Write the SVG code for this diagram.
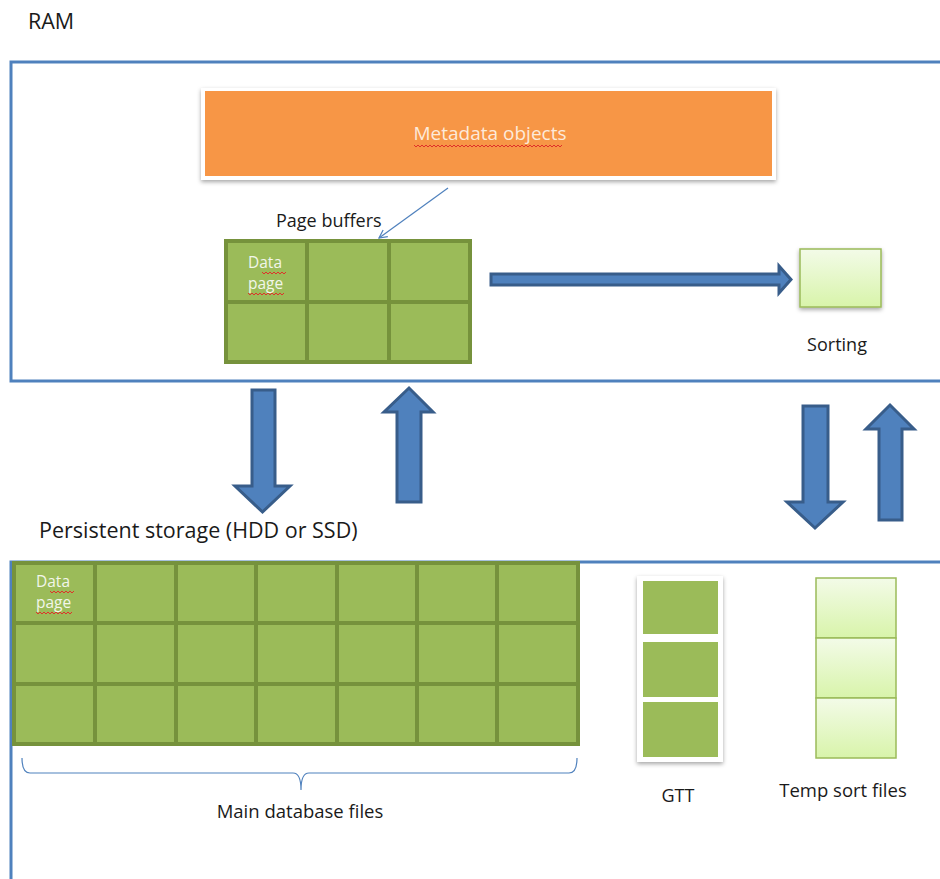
<svg xmlns="http://www.w3.org/2000/svg" width="940" height="879" viewBox="0 0 940 879">
<defs>
<style>
.t{font-family:"Open Sans","Liberation Sans",Arial,sans-serif;fill:#1a1a1a}
.frame{fill:none;stroke:#4F81BD;stroke-width:3}
.cell{fill:#9BBB59;stroke:#76923C;stroke-width:4}
.blk{fill:#4F81BD;stroke:#385D8A;stroke-width:3;stroke-linejoin:miter}
.lite{fill:url(#lg);stroke:#9BBB59;stroke-width:1.5}
.sq{fill:none;stroke:#E0302A;stroke-width:1}
.wt{font-family:"Open Sans","Liberation Sans",Arial,sans-serif;fill:#F2F6EA}
</style>
<linearGradient id="lg" x1="0" y1="0" x2="0" y2="1">
<stop offset="0" stop-color="#F3FBE8"/>
<stop offset="1" stop-color="#D8F4AA"/>
</linearGradient>
<filter id="sh" x="-10%" y="-10%" width="120%" height="130%">
<feDropShadow dx="0" dy="2" stdDeviation="2" flood-color="#000" flood-opacity="0.35"/>
</filter>
<marker id="ah" markerWidth="10" markerHeight="10" refX="9" refY="5" orient="auto" markerUnits="userSpaceOnUse">
<path d="M1,1 L9,5 L1,9" fill="none" stroke="#4F81BD" stroke-width="1.2"/>
</marker>
</defs>
<rect width="940" height="879" fill="#fff"/>

<g id="ram">
<text class="t" x="28" y="29" font-size="21.5">RAM</text>
<rect class="frame" x="11" y="62" width="940" height="319"/>
</g>

<g id="storage">
<text class="t" x="39" y="538" font-size="21.5">Persistent storage (HDD or SSD)</text>
<rect class="frame" x="11" y="562" width="940" height="330"/>
</g>

<g id="metadata">
<rect x="201" y="88" width="575" height="92" fill="#fff" filter="url(#sh)"/>
<rect x="205" y="91" width="567" height="85" fill="#F79646"/>
<text x="490" y="140" font-size="19" text-anchor="middle" font-family="Open Sans, Liberation Sans, Arial, sans-serif" fill="#FDEADA">Metadata objects</text>
<path class="sq" d="M414,145 l2,2 2,-2 2,2 2,-2 2,2 2,-2 2,2 2,-2 2,2 2,-2 2,2 2,-2 2,2 2,-2 2,2 2,-2 2,2 2,-2 2,2 2,-2 2,2 2,-2 2,2 2,-2 2,2 2,-2 2,2 2,-2 2,2 2,-2 2,2 2,-2 2,2 2,-2 2,2 2,-2 2,2 2,-2 M490,145 l2,2 2,-2 2,2 2,-2 2,2 2,-2 2,2 2,-2 2,2 2,-2 2,2 2,-2 2,2 2,-2 2,2 2,-2 2,2 2,-2 2,2 2,-2 2,2 2,-2 2,2 2,-2 2,2 2,-2 2,2 2,-2 2,2 2,-2 2,2 2,-2 2,2 2,-2 2,2 2,-2"/>
</g>

<g id="page-buffers">
<text class="t" x="276" y="227" font-size="18">Page buffers</text>
<rect class="cell" x="226" y="241" width="81" height="61"/>
<rect class="cell" x="307" y="241" width="82" height="61"/>
<rect class="cell" x="389" y="241" width="81" height="61"/>
<rect class="cell" x="226" y="302" width="81" height="60"/>
<rect class="cell" x="307" y="302" width="82" height="60"/>
<rect class="cell" x="389" y="302" width="81" height="60"/>
<text class="wt" x="248" y="268" font-size="15.5">Data</text>
<text class="wt" x="248" y="289" font-size="15.5">page</text>
<path class="sq" d="M262,272 l2,2 2,-2 2,2 2,-2 2,2 2,-2 2,2 2,-2 2,2 2,-2 2,2 2,-2 M248,293 l2,2 2,-2 2,2 2,-2 2,2 2,-2 2,2 2,-2 2,2 2,-2 2,2 2,-2 2,2 2,-2 2,2 2,-2 2,2 2,-2"/>
</g>

<g id="sorting">
<rect class="lite" x="800" y="249" width="81" height="58" filter="url(#sh)"/>
<text class="t" x="837" y="351" font-size="18" text-anchor="middle">Sorting</text>
</g>

<g id="main-db">
<rect class="cell" x="14" y="563" width="81" height="60"/>
<rect class="cell" x="95" y="563" width="81" height="60"/>
<rect class="cell" x="176" y="563" width="80" height="60"/>
<rect class="cell" x="256" y="563" width="81" height="60"/>
<rect class="cell" x="337" y="563" width="80" height="60"/>
<rect class="cell" x="417" y="563" width="80" height="60"/>
<rect class="cell" x="497" y="563" width="81" height="60"/>
<rect class="cell" x="14" y="623" width="81" height="61"/>
<rect class="cell" x="95" y="623" width="81" height="61"/>
<rect class="cell" x="176" y="623" width="80" height="61"/>
<rect class="cell" x="256" y="623" width="81" height="61"/>
<rect class="cell" x="337" y="623" width="80" height="61"/>
<rect class="cell" x="417" y="623" width="80" height="61"/>
<rect class="cell" x="497" y="623" width="81" height="61"/>
<rect class="cell" x="14" y="684" width="81" height="60"/>
<rect class="cell" x="95" y="684" width="81" height="60"/>
<rect class="cell" x="176" y="684" width="80" height="60"/>
<rect class="cell" x="256" y="684" width="81" height="60"/>
<rect class="cell" x="337" y="684" width="80" height="60"/>
<rect class="cell" x="417" y="684" width="80" height="60"/>
<rect class="cell" x="497" y="684" width="81" height="60"/>
<text class="wt" x="36" y="587" font-size="15.5">Data</text>
<text class="wt" x="36" y="608" font-size="15.5">page</text>
<path class="sq" d="M50,591 l2,2 2,-2 2,2 2,-2 2,2 2,-2 2,2 2,-2 2,2 2,-2 2,2 2,-2 M36,612 l2,2 2,-2 2,2 2,-2 2,2 2,-2 2,2 2,-2 2,2 2,-2 2,2 2,-2 2,2 2,-2 2,2 2,-2 2,2 2,-2"/>
<path d="M22,758 Q22,773 30,773 L293,773 Q301,773 301,790 Q301,773 309,773 L569,773 Q577,773 577,758" fill="none" stroke="#4F81BD" stroke-width="1.2"/>
<text class="t" x="300" y="818" font-size="18.5" text-anchor="middle">Main database files</text>
</g>

<g id="gtt">
<rect x="637" y="576" width="86" height="186" fill="#fff" filter="url(#sh)"/>
<rect x="643" y="581" width="75" height="53" fill="#9BBB59"/>
<rect x="643" y="642" width="75" height="55" fill="#9BBB59"/>
<rect x="643" y="702" width="75" height="55" fill="#9BBB59"/>
<text class="t" x="678" y="802" font-size="18" text-anchor="middle">GTT</text>
</g>

<g id="temp-sort">
<rect class="lite" x="816" y="578" width="80" height="60"/>
<rect class="lite" x="816" y="638" width="80" height="60"/>
<rect class="lite" x="816" y="698" width="80" height="60"/>
<text class="t" x="843" y="797" font-size="18.5" text-anchor="middle">Temp sort files</text>
</g>

<g id="connectors">
<line x1="448" y1="188" x2="379" y2="238" stroke="#4F81BD" stroke-width="1.2" marker-end="url(#ah)"/>
<path class="blk" d="M491,274 L779,274 L779,266 L791,279.5 L779,293 L779,285 L491,285 Z"/>
<path class="blk" d="M252,390 L275,390 L275,486 L290,486 L262.5,512 L235,486 L252,486 Z"/>
<path class="blk" d="M397,502 L421,502 L421,412 L433,412 L409,388 L384,412 L397,412 Z"/>
<path class="blk" d="M803,406 L828,406 L828,502 L843,502 L815,528 L787,502 L803,502 Z"/>
<path class="blk" d="M879,520 L902,520 L902,429 L914,429 L890,405 L866,429 L879,429 Z"/>
</g>
</svg>
